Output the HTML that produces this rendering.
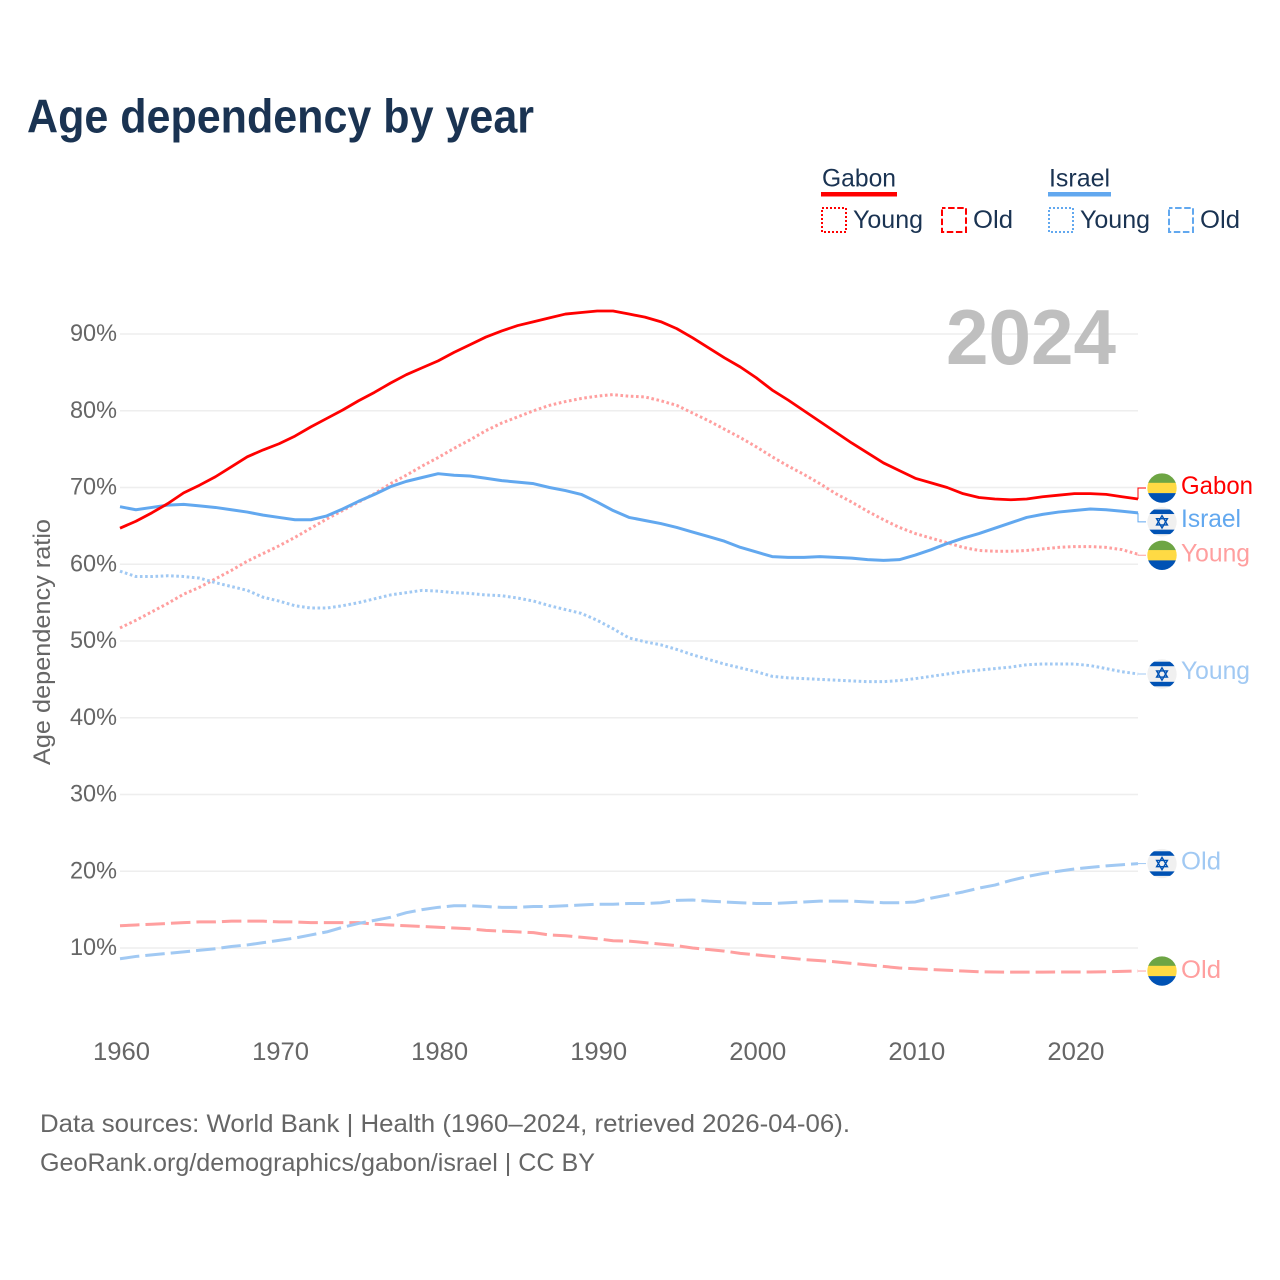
<!DOCTYPE html>
<html lang="en">
<head>
<meta charset="utf-8">
<title>Age dependency by year</title>
<style>
  html,body{margin:0;padding:0;background:#fff;}
  svg{display:block;font-family:"Liberation Sans",sans-serif;}
</style>
</head>
<body>
<svg id="chart" xmlns="http://www.w3.org/2000/svg" width="1280" height="1280" viewBox="0 0 1280 1280">
  <defs>
    <clipPath id="flag-clip"><circle cx="0" cy="0" r="14.7"/></clipPath>
    <g id="flag-gabon" clip-path="url(#flag-clip)">
      <rect x="-15" y="-15" width="30" height="10.2" fill="#6da544"/>
      <rect x="-15" y="-5.2" width="30" height="10.4" fill="#ffda44"/>
      <rect x="-15" y="5.1" width="30" height="10" fill="#0052b4"/>
    </g>
    <g id="flag-israel" clip-path="url(#flag-clip)">
      <rect x="-15" y="-15" width="30" height="30" fill="#f0f0f0"/>
      <rect x="-15" y="-12.3" width="30" height="4.5" fill="#0052b4"/>
      <rect x="-15" y="7.8" width="30" height="4.5" fill="#0052b4"/>
      <path d="M0,-6.2 L5.4,3.1 L-5.4,3.1 Z M0,6.2 L5.4,-3.1 L-5.4,-3.1 Z" fill="none" stroke="#0052b4" stroke-width="1.4"/>
    </g>
  </defs>
  <rect x="0" y="0" width="1280" height="1280" fill="#ffffff"/>
  <text x="27" y="132.5" font-size="47" font-weight="700" fill="#1a3352" textLength="507" lengthAdjust="spacingAndGlyphs">Age dependency by year</text>

  <g id="grid"></g>
  <text x="946" y="364" font-size="78" font-weight="700" fill="#bfbfbf" textLength="170" lengthAdjust="spacingAndGlyphs">2024</text>
  <g id="yticks"></g>
  <g id="xticks"></g>
  <text transform="translate(50,765) rotate(-90)" x="0" y="0" font-size="24" fill="#666666" textLength="246" lengthAdjust="spacingAndGlyphs">Age dependency ratio</text>
  <g id="lines"></g>
  <g id="labels"></g>

  <g>
    <text x="822" y="186.5" font-size="25" fill="#1a3352" textLength="74" lengthAdjust="spacingAndGlyphs">Gabon</text>
    <rect x="821" y="192" width="76" height="4.5" fill="#ff0000"/>
    <rect x="822" y="208" width="24" height="24" fill="none" stroke="#ff0000" stroke-width="2" stroke-dasharray="2 2"/>
    <text x="853" y="228" font-size="25" fill="#1a3352" textLength="70" lengthAdjust="spacingAndGlyphs">Young</text>
    <rect x="942" y="208" width="24" height="24" fill="none" stroke="#ff0000" stroke-width="2" stroke-dasharray="6.5 2.6" stroke-dashoffset="3"/>
    <text x="973" y="228" font-size="25" fill="#1a3352" textLength="40" lengthAdjust="spacingAndGlyphs">Old</text>

    <text x="1049" y="186.5" font-size="25" fill="#1a3352" textLength="61" lengthAdjust="spacingAndGlyphs">Israel</text>
    <rect x="1048" y="192" width="63" height="4.5" fill="#62a8ef"/>
    <rect x="1049" y="208" width="24" height="24" fill="none" stroke="#62a8ef" stroke-width="2" stroke-dasharray="2 2"/>
    <text x="1080" y="228" font-size="25" fill="#1a3352" textLength="70" lengthAdjust="spacingAndGlyphs">Young</text>
    <rect x="1169" y="208" width="24" height="24" fill="none" stroke="#62a8ef" stroke-width="2" stroke-dasharray="6.5 2.6" stroke-dashoffset="3"/>
    <text x="1200" y="228" font-size="25" fill="#1a3352" textLength="40" lengthAdjust="spacingAndGlyphs">Old</text>
  </g>

  <text x="40" y="1132" font-size="25" fill="#666666" textLength="810" lengthAdjust="spacingAndGlyphs">Data sources: World Bank | Health (1960–2024, retrieved 2026-04-06).</text>
  <text x="40" y="1171" font-size="25" fill="#666666" textLength="555" lengthAdjust="spacingAndGlyphs">GeoRank.org/demographics/gabon/israel | CC BY</text>
</svg>

<script>
const startYear = 1960;
const endYear = 2024;
const yTickValues = [10, 20, 30, 40, 50, 60, 70, 80, 90];
const xTickValues = [1960, 1970, 1980, 1990, 2000, 2010, 2020];

const gabonTotal = [64.7,65.6,66.7,67.9,69.3,70.3,71.4,72.7,74.0,74.9,75.7,76.7,77.9,79.0,80.1,81.3,82.4,83.6,84.7,85.6,86.5,87.6,88.6,89.6,90.4,91.1,91.6,92.1,92.6,92.8,93.0,93.0,92.6,92.2,91.6,90.7,89.5,88.2,86.9,85.7,84.3,82.7,81.4,80.0,78.6,77.2,75.8,74.5,73.2,72.2,71.2,70.6,70.0,69.2,68.7,68.5,68.4,68.5,68.8,69.0,69.2,69.2,69.1,68.8,68.5];
const gabonYoung = [51.7,52.7,53.8,54.9,56.1,57.0,58.1,59.2,60.4,61.4,62.4,63.5,64.7,65.9,67.0,68.1,69.2,70.5,71.6,72.8,73.9,75.1,76.2,77.4,78.4,79.2,80.0,80.7,81.2,81.6,81.9,82.1,81.9,81.8,81.3,80.7,79.7,78.7,77.6,76.5,75.3,74.0,72.8,71.7,70.5,69.2,68.1,66.9,65.8,64.8,64.0,63.4,62.8,62.2,61.8,61.7,61.7,61.8,62.0,62.2,62.3,62.3,62.2,61.9,61.3];
const gabonOld = [12.9,13.0,13.1,13.2,13.3,13.4,13.4,13.5,13.5,13.5,13.4,13.4,13.3,13.3,13.3,13.3,13.1,13.0,12.9,12.8,12.7,12.6,12.5,12.3,12.2,12.1,12.0,11.7,11.6,11.4,11.2,10.95,10.9,10.7,10.5,10.3,10.0,9.8,9.6,9.3,9.1,8.9,8.7,8.5,8.35,8.2,8.0,7.8,7.6,7.4,7.3,7.2,7.1,7.0,6.9,6.87,6.85,6.85,6.85,6.87,6.87,6.87,6.9,6.95,7.0];
const israelTotal = [67.5,67.1,67.4,67.7,67.8,67.6,67.4,67.1,66.8,66.4,66.1,65.8,65.8,66.3,67.2,68.2,69.1,70.1,70.8,71.3,71.8,71.6,71.5,71.2,70.9,70.7,70.5,70.0,69.6,69.1,68.1,67.0,66.1,65.7,65.3,64.8,64.2,63.6,63.0,62.2,61.6,61.0,60.9,60.9,61.0,60.9,60.8,60.6,60.5,60.6,61.2,61.9,62.7,63.4,64.0,64.7,65.4,66.1,66.5,66.8,67.0,67.2,67.1,66.9,66.7];
const israelYoung = [59.1,58.4,58.4,58.5,58.4,58.2,57.6,57.1,56.6,55.7,55.2,54.6,54.3,54.3,54.6,55.0,55.5,56.0,56.3,56.6,56.5,56.3,56.2,56.0,55.9,55.6,55.2,54.6,54.1,53.6,52.7,51.6,50.4,49.9,49.5,48.9,48.2,47.6,47.0,46.5,46.0,45.4,45.2,45.1,45.0,44.9,44.8,44.7,44.7,44.85,45.1,45.4,45.7,46.0,46.2,46.4,46.6,46.9,47.0,47.0,47.0,46.8,46.4,46.0,45.7];
const israelOld = [8.6,8.9,9.1,9.3,9.5,9.7,9.9,10.2,10.4,10.7,11.0,11.3,11.7,12.1,12.7,13.2,13.6,14.0,14.6,15.0,15.3,15.5,15.5,15.4,15.3,15.3,15.4,15.4,15.5,15.6,15.7,15.7,15.8,15.8,15.9,16.2,16.25,16.1,16.0,15.9,15.8,15.8,15.9,16.0,16.1,16.1,16.1,16.0,15.9,15.9,16.0,16.5,16.9,17.3,17.8,18.2,18.8,19.3,19.7,20.0,20.3,20.5,20.7,20.85,21.0];

const NS = 'http://www.w3.org/2000/svg';
const plotLeft = 120;
const plotRight = 1138;

function xScale(year) {
  return plotLeft + (year - startYear) * (plotRight - plotLeft) / (endYear - startYear);
}
function yScale(value) {
  return 948 - (value - 10) * 7.675;
}
function make(tag, attrs, parent) {
  const el = document.createElementNS(NS, tag);
  Object.keys(attrs).forEach(function (k) { el.setAttribute(k, attrs[k]); });
  parent.appendChild(el);
  return el;
}

const gridGroup = document.getElementById('grid');
const yTickGroup = document.getElementById('yticks');
const xTickGroup = document.getElementById('xticks');
const lineGroup = document.getElementById('lines');
const labelGroup = document.getElementById('labels');

yTickValues.forEach(function (v) {
  const line = make('line', {x1: plotLeft, x2: plotRight, y1: yScale(v), y2: yScale(v), stroke: '#eeeeee', 'stroke-width': 1.5}, gridGroup);
  
  
  const label = make('text', {x: 70, y: yScale(v) + 7, 'font-size': 24.5, fill: '#666666', textLength: 47, lengthAdjust: 'spacingAndGlyphs'}, yTickGroup);
  
  
  label.textContent = v + '%';
});

xTickValues.forEach(function (year) {
  const label = make('text', {x: xScale(year) - 27, y: 1060, 'font-size': 25, fill: '#666666', textLength: 57, lengthAdjust: 'spacingAndGlyphs'}, xTickGroup);
  
  
  label.textContent = String(year);
});

const seriesList = [
  {key: 'gabon-old', label: 'Old', flag: 'gabon', values: gabonOld, color: '#ff9f9f', dash: '19.5 6', width: 3, labelWidth: 40, shift: 0, textDy: 7},
  {key: 'israel-old', label: 'Old', flag: 'israel', values: israelOld, color: '#a1c9f3', dash: '19.5 6', width: 3, labelWidth: 40, shift: 0, textDy: 6},
  {key: 'gabon-young', label: 'Young', flag: 'gabon', values: gabonYoung, color: '#ff9f9f', dash: '2.6 2.6', width: 3, labelWidth: 69, shift: 1, textDy: 6},
  {key: 'israel-young', label: 'Young', flag: 'israel', values: israelYoung, color: '#a1c9f3', dash: '2.6 2.6', width: 3, labelWidth: 69, shift: 0, textDy: 5},
  {key: 'israel-total', label: 'Israel', flag: 'israel', values: israelTotal, color: '#62a8ef', dash: '', width: 3, labelWidth: 60, shift: 9, textDy: 5},
  {key: 'gabon-total', label: 'Gabon', flag: 'gabon', values: gabonTotal, color: '#ff0000', dash: '', width: 2.8, labelWidth: 72, shift: -11, textDy: 6}
];

seriesList.forEach(function (s) {
  const pts = s.values.map(function (v, i) {
    return (i === 0 ? 'M' : 'L') + xScale(startYear + i).toFixed(2) + ',' + yScale(v).toFixed(2);
  }).join(' ');
  const path = make('path', {d: pts, fill: 'none', stroke: s.color, 'stroke-width': s.width, 'stroke-linejoin': 'round'}, lineGroup);
  
  
  if (s.dash) path.setAttribute('stroke-dasharray', s.dash);

  const lastY = yScale(s.values[s.values.length - 1]);
  const labelY = lastY + s.shift;
  const xEnd = xScale(endYear);
  const connector = make('polyline', {
    points: xEnd + ',' + lastY + ' ' + xEnd + ',' + labelY + ' ' + (xEnd + 8) + ',' + labelY,
    fill: 'none', stroke: s.color, 'stroke-width': 1
  }, labelGroup);
  
  

  const flag = make('use', {href: '#flag-' + s.flag, transform: 'translate(1162,' + labelY + ')'}, labelGroup);
  
  

  const text = make('text', {x: 1181, y: labelY + s.textDy, 'font-size': 25, fill: s.color, textLength: s.labelWidth, lengthAdjust: 'spacingAndGlyphs'}, labelGroup);
  
  
  text.textContent = s.label;
});
</script>
</body>
</html>
